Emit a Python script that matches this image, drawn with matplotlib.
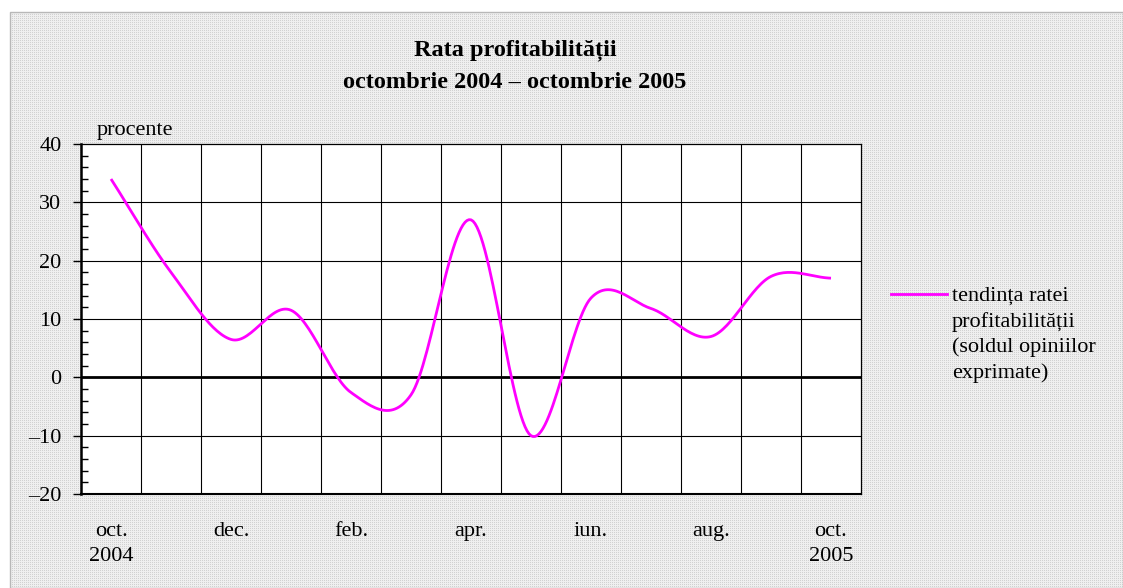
import numpy as np
import matplotlib
matplotlib.use("Agg")
import matplotlib.pyplot as plt
from matplotlib.lines import Line2D
from matplotlib.patches import Rectangle

# ---- data ----
months = ["oct.", "nov.", "dec.", "ian.", "feb.", "mar.", "apr.", "mai", "iun.",
          "iul.", "aug.", "sep.", "oct."]
values = [34.0, 18.0, 6.5, 11.5, -2.6, -3.0, 27.0, -10.0, 13.6, 11.8, 7.0, 17.3, 17.0]
tick_labels = ["oct.\n2004", "dec.", "feb.", "apr.", "iun.", "aug.", "oct.\n2005"]
y_ticks = [-20, -10, 0, 10, 20, 30, 40]
y_tick_labels = ["\u201320", "\u201310", "0", "10", "20", "30", "40"]
title_lines = ["Rata profitabilității", "octombrie 2004 \u2013 octombrie 2005"]
legend_label = "tendința ratei\nprofitabilității\n(soldul opiniilor\nexprimate)"

plt.rcParams['font.family'] = ['Liberation Serif', 'DejaVu Serif']

W, H = 1123, 588
fig = plt.figure(figsize=(W / 100, H / 100), dpi=100)
fig.patch.set_facecolor('white')

# dotted background pattern inside chart frame
pat = np.ones((H, W, 3))
yy, xx = np.mgrid[0:H, 0:W]
dots = ((xx % 2 == 0) & (yy % 2 == 0))
base = np.where(dots, 0.82, 0.94)
inside = (xx >= 10) & (yy >= 12)
gray = np.where(inside, base, 1.0)
pat[..., 0] = gray
pat[..., 1] = gray
pat[..., 2] = gray
fig.figimage(pat, xo=0, yo=0, origin='upper', zorder=-10)
fig.add_artist(Rectangle((10 / W, 0), 1 - 10 / W, 1 - 12 / H, transform=fig.transFigure,
                         fill=False, edgecolor='#b8b8b8', linewidth=1.0))

ax = fig.add_axes([81 / W, 1 - 494 / H, (861 - 81) / W, (494 - 144) / H])
ax.set_facecolor('white')

x = np.arange(len(values))
y = np.array(values)

# Catmull-Rom smoothing (Excel-like smoothed line)
def catmull(xs, ys, n=30):
    m = np.zeros_like(ys)
    m[1:-1] = (ys[2:] - ys[:-2]) / 2.0
    m[0] = ys[1] - ys[0]
    m[-1] = ys[-1] - ys[-2]
    px, py = [], []
    for i in range(len(ys) - 1):
        t = np.linspace(0, 1, n, endpoint=(i == len(ys) - 2))
        h00 = 2 * t**3 - 3 * t**2 + 1
        h10 = t**3 - 2 * t**2 + t
        h01 = -2 * t**3 + 3 * t**2
        h11 = t**3 - t**2
        px.append(xs[i] + t * (xs[i + 1] - xs[i]))
        py.append(h00 * ys[i] + h10 * m[i] + h01 * ys[i + 1] + h11 * m[i + 1])
    return np.concatenate(px), np.concatenate(py)

sx, sy = catmull(x.astype(float), y)
ax.plot(sx, sy, color='#ff00ff', linewidth=2.0, zorder=5, solid_capstyle='butt')

ax.set_xlim(-0.5, len(values) - 0.5)
ax.set_ylim(-20, 40)

# grid
for gx in np.arange(0.5, len(values) - 0.5, 1.0):
    ax.axvline(gx, color='black', linewidth=0.8, zorder=1)
for gy in [-10, 10, 20, 30]:
    ax.axhline(gy, color='black', linewidth=0.8, zorder=1)
ax.axhline(0, color='black', linewidth=2.0, zorder=2)

ax.set_xticks(np.arange(0, len(values), 2))
ax.set_xticklabels(tick_labels, fontsize=16, linespacing=1.45)
ax.tick_params(axis='x', length=0, pad=20)

ax.set_yticks(y_ticks)
ax.set_yticklabels(y_tick_labels, fontsize=16)
ax.tick_params(axis='y', direction='out', length=6, width=1.0, pad=8)
ax.set_yticks(np.arange(-18, 40, 2), minor=True)
ax.tick_params(axis='y', which='minor', direction='in', length=5, width=1.0)

for s in ['top', 'right']:
    ax.spines[s].set_linewidth(0.9)
ax.spines['left'].set_linewidth(1.8)
ax.spines['bottom'].set_linewidth(1.5)

fig.text(97 / W, 1 - 131 / H, "procente", fontsize=16, ha='left', va='center')

fig.text(515 / W, 1 - 50 / H, title_lines[0], fontsize=17.5, fontweight='bold',
         ha='center', va='center')
fig.text(515 / W, 1 - 82 / H, title_lines[1], fontsize=17.5, fontweight='bold',
         ha='center', va='center')

# legend
fig.add_artist(Line2D([891 / W, 947 / W], [1 - 294 / H, 1 - 294 / H],
                      transform=fig.transFigure, color='#ff00ff', linewidth=2.0))
fig.text(952 / W, 1 - 287 / H, legend_label, fontsize=16, ha='left', va='top',
         linespacing=1.4)

fig.savefig('out.png', dpi=100)
